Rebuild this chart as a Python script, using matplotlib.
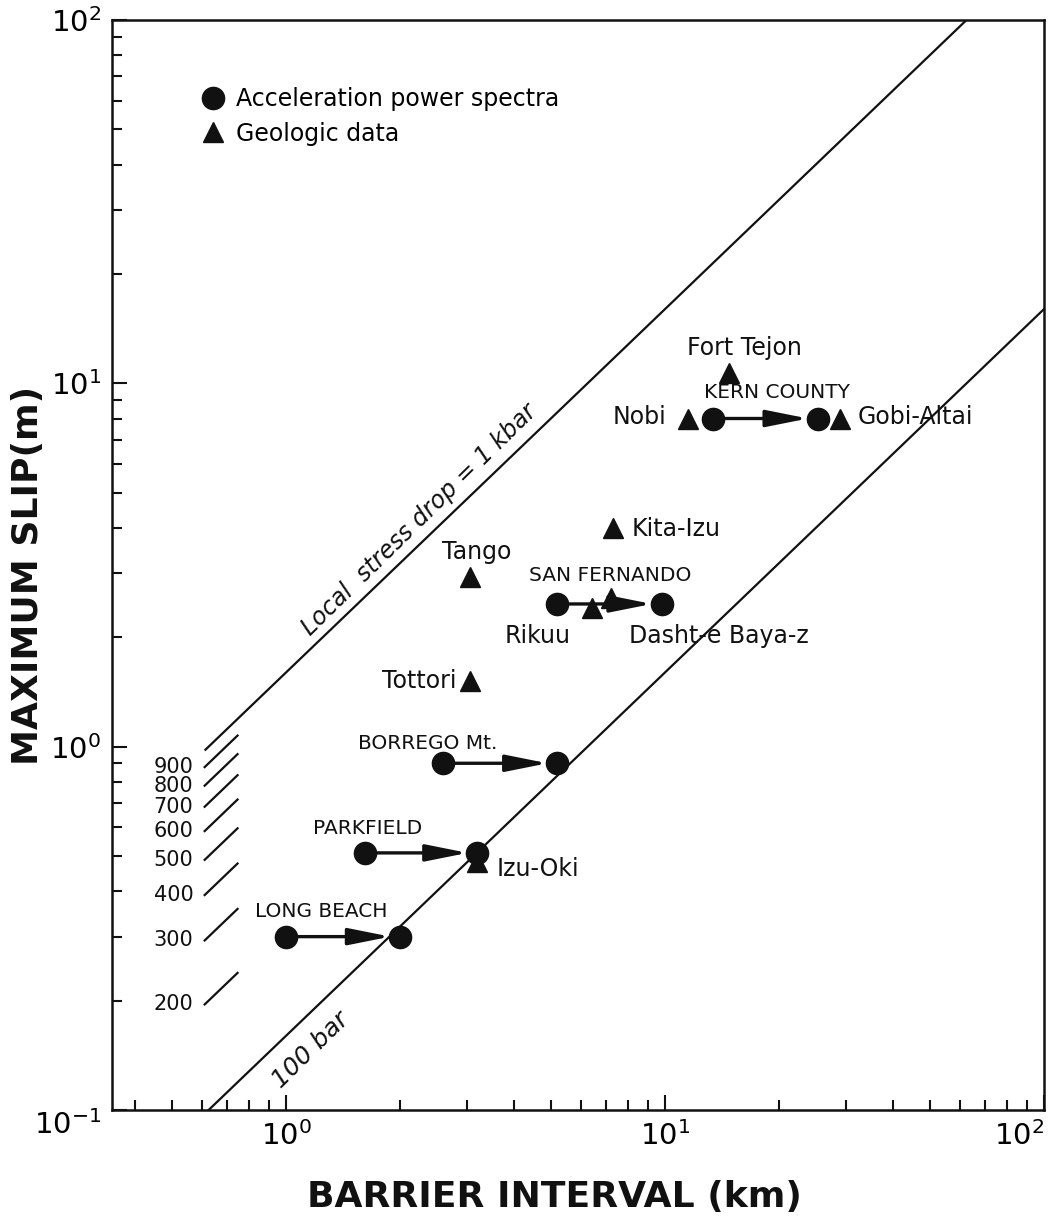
import matplotlib.pyplot as plt
from matplotlib.lines import Line2D
from matplotlib.ticker import NullFormatter, LogLocator
import numpy as np

# earthquakes with an interval range from acceleration power spectra
accel_names = ["LONG BEACH", "PARKFIELD", "BORREGO Mt.", "SAN FERNANDO", "KERN COUNTY"]
accel_from = [1.0, 1.62, 2.6, 5.2, 13.4]
accel_to = [2.0, 3.2, 5.2, 9.8, 25.3]
accel_slip = [0.30, 0.51, 0.90, 2.47, 8.0]

# geologic data
geo_names = ["Izu-Oki", "Tottori", "Tango", "Rikuu", "Dasht-e Baya-z",
             "Kita-Izu", "Fort Tejon", "Nobi", "Gobi-Altai"]
geo_interval = [3.2, 3.05, 3.05, 6.4, 7.2, 7.3, 14.8, 11.5, 28.9]
geo_slip = [0.48, 1.52, 2.93, 2.41, 2.57, 4.0, 10.7, 8.0, 8.0]

# stress drop scale (bar)
stress_ticks = [200, 300, 400, 500, 600, 700, 800, 900]
slip_per_km_100bar = 0.16

# where the labels go (x, y, ha)
accel_label_pos = [(1.24, 0.352, "center"), (1.64, 0.595, "center"), (2.36, 1.02, "center"),
                   (7.19, 2.96, "center"), (19.7, 9.43, "center")]
geo_label_pos = [(3.6, 0.46, "left"), (2.82, 1.52, "right"), (3.19, 3.44, "center"),
                 (4.62, 2.01, "center"), (8.05, 2.01, "left"), (8.17, 3.96, "left"),
                 (16.2, 12.5, "center"), (10.1, 8.1, "right"), (32.3, 8.1, "left")]

plt.rcParams['font.family'] = ['DejaVu Sans']
fig = plt.figure(figsize=(10.62, 12.31), dpi=100)
ax = fig.add_axes([0.1055, 0.0983, 0.8775, 0.8855])
ax.set_xscale('log')
ax.set_yscale('log')
ax.set_xlim(0.3475, 100)
ax.set_ylim(0.1, 100)

ink = '#111111'

# stress drop lines
L = np.array([0.61, 100])
ax.plot(L, 10 * slip_per_km_100bar * L, color=ink, lw=1.6, solid_capstyle='butt')
L = np.array([0.3, 100])
ax.plot(L, slip_per_km_100bar * L, color=ink, lw=1.6)
seg = np.array([0.61, 0.745])
for s in stress_ticks:
    k = slip_per_km_100bar * s / 100
    ax.plot(seg, k * seg, color=ink, lw=1.6)
    ax.text(0.57, k * seg[0], str(s), ha='right', va='center', fontsize=15, color=ink)

ax.text(2.25, 4.2, "Local  stress drop = 1 kbar", rotation=44.5, rotation_mode='anchor',
        ha='center', va='center', fontsize=17, style='italic', color=ink)
ax.text(1.16, 0.1466, "100 bar", rotation=44.5, rotation_mode='anchor',
        ha='center', va='center', fontsize=18, style='italic', color=ink)

# arrows and circles
for i in range(len(accel_names)):
    ax.annotate('', xy=(accel_to[i], accel_slip[i]), xytext=(accel_from[i], accel_slip[i]),
                arrowprops=dict(arrowstyle='-|>,head_length=1.5,head_width=0.3',
                                mutation_scale=17, lw=2.4, color=ink,
                                shrinkA=0, shrinkB=7))
    ax.plot([accel_from[i], accel_to[i]], [accel_slip[i]] * 2, 'o', ms=16,
            color=ink, ls='none', zorder=5)
    x, y, ha = accel_label_pos[i]
    ax.text(x, y, accel_names[i], ha=ha, va='center', fontsize=14.5, color=ink)

ax.plot(geo_interval, geo_slip, '^', ms=15, color=ink, ls='none', zorder=6)
for i in range(len(geo_names)):
    x, y, ha = geo_label_pos[i]
    ax.text(x, y, geo_names[i], ha=ha, va='center', fontsize=17, color=ink)

# legend
handles = [Line2D([], [], marker='o', ms=16, color=ink, ls='none'),
           Line2D([], [], marker='^', ms=15, color=ink, ls='none')]
ax.legend(handles, ["Acceleration power spectra", "Geologic data"], loc='upper left',
          bbox_to_anchor=(0.07, 0.958), frameon=False, fontsize=17,
          handletextpad=0.4, labelspacing=0.45, handlelength=1.2)

# axes styling
for sp in ax.spines.values():
    sp.set_linewidth(1.8)
    sp.set_color(ink)
ax.xaxis.set_minor_locator(LogLocator(base=10, subs=np.arange(2, 10)))
ax.yaxis.set_minor_locator(LogLocator(base=10, subs=np.arange(2, 10)))
ax.xaxis.set_minor_formatter(NullFormatter())
ax.yaxis.set_minor_formatter(NullFormatter())
ax.tick_params(which='both', direction='in', top=False, right=False, width=1.5, color=ink)
ax.tick_params(which='major', length=11, labelsize=21, pad=8)
ax.tick_params(which='minor', length=7.5)

fig.canvas.draw()
for lab in ax.get_xticklabels():
    if lab.get_position()[0] >= 99:
        lab.set_horizontalalignment('right')
for lab in ax.get_yticklabels():
    if lab.get_position()[1] <= 0.11:
        lab.set_verticalalignment('top')

ax.set_xlabel("BARRIER INTERVAL (km)", fontsize=26, fontweight='bold', color=ink)
ax.xaxis.set_label_coords(0.475, -0.064)
ax.set_ylabel("MAXIMUM SLIP(m)", fontsize=26, fontweight='bold', color=ink)
ax.yaxis.set_label_coords(-0.072, 0.49)

fig.savefig('out.png', dpi=100)
